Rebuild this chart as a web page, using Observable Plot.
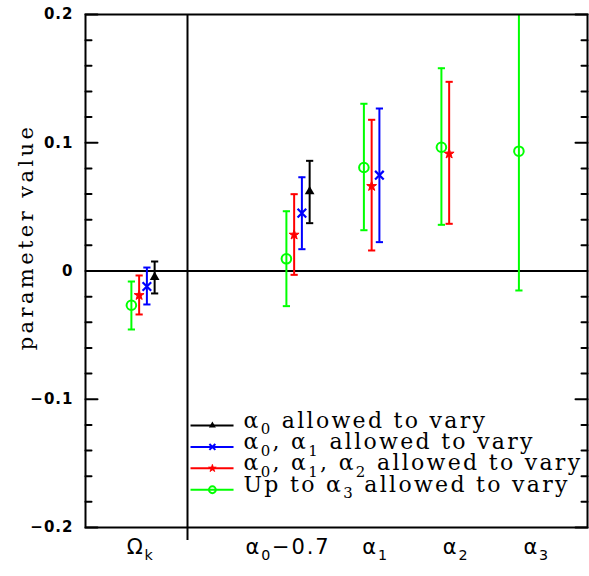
<!DOCTYPE html>
<html><head><meta charset="utf-8">
<script src="https://cdn.jsdelivr.net/npm/d3@7"></script>
<script src="https://cdn.jsdelivr.net/npm/@observablehq/plot@0.6"></script>
<style>
body{margin:0;background:#fff;}
.lgtext text{letter-spacing:2.3px;}
.ytitle text{letter-spacing:3.4px;}
.xlab text{letter-spacing:1.8px;}
.yaxis text{letter-spacing:1px;}
</style></head><body><div id="chart"></div>
<script>
// ---- data ----
const params = ["Ω_k", "α_0−0.7", "α_1", "α_2", "α_3"];
const paramSlot = [0, 2, 3, 4, 5];
const seriesNames = ["α_0 allowed to vary", "α_0, α_1 allowed to vary", "α_0, α_1, α_2 allowed to vary", "Up to α_3 allowed to vary"];
const seriesColors = ["#000000", "#0000ff", "#ff0000", "#00ff00"];
const seriesSymbols = ["triangle", "times", "star", "circle"];
// values per parameter (Ω_k, α0−0.7, α1, α2, α3)
const blackValue = [-0.0048, 0.0620];
const blackLow   = [-0.0175, 0.0373];
const blackHigh  = [ 0.0074, 0.0859];
const blueValue  = [-0.0121, 0.0451, 0.0747];
const blueLow    = [-0.0261, 0.0170, 0.0225];
const blueHigh   = [ 0.0027, 0.0731, 0.1267];
const redValue   = [-0.0189, 0.0282, 0.0661, 0.0914];
const redLow     = [-0.0339, -0.0030, 0.0160, 0.0368];
const redHigh    = [-0.0035, 0.0599, 0.1179, 0.1475];
const greenValue = [-0.0267, 0.0095, 0.0807, 0.0965, 0.0934];
const greenLow   = [-0.0456, -0.0274, 0.0318, 0.0360, -0.0152];
const greenHigh  = [-0.0082, 0.0466, 0.1304, 0.1581, 0.2020];
const yTickValues = [-0.2, -0.1, 0, 0.1, 0.2];
const yMinorTicks = [-0.18,-0.16,-0.14,-0.12,-0.08,-0.06,-0.04,-0.02,0.02,0.04,0.06,0.08,0.12,0.14,0.16,0.18];

// ---- layout (style) ----
const seriesOffset = [0.15, 0.05, -0.05, -0.15];
const labelShift = [-0.03, -0.13, 0, 0.04, 0.08];
const dividerSlot = 0.574;
const legend = {x1: 0.613, x2: 1.168, xm: 0.895, xt: 1.297, y0: -0.1205, step: 0.01669};

const seriesData = [
  [blackValue, blackLow, blackHigh],
  [blueValue, blueLow, blueHigh],
  [redValue, redLow, redHigh],
  [greenValue, greenLow, greenHigh]
];
const rows = [];
seriesData.forEach(([v, lo, hi], s) => {
  v.forEach((val, i) => rows.push({s, x: paramSlot[i] + seriesOffset[s], v: val, lo: lo[i], hi: hi[i], color: seriesColors[s]}));
});

const capSymbol = {draw(ctx, size) { const r = Math.sqrt(size / Math.PI); ctx.moveTo(-r, 0); ctx.lineTo(r, 0); }};
const tickShape = {draw(ctx, l) { ctx.moveTo(0, 0); ctx.lineTo(0, -l); }};
const markerStyle = [
  {fill: "#000000", stroke: "none", r: 3.6},
  {fill: "none", stroke: "#0000ff", strokeWidth: 2.2, r: 4},
  {fill: "#ff0000", stroke: "#ff0000", strokeWidth: 1, r: 3.1},
  {fill: "none", stroke: "#00ff00", strokeWidth: 2, r: 4.8}
];
const legendMarker = [
  {fill: "#000000", stroke: "none", r: 2.6},
  {fill: "none", stroke: "#0000ff", strokeWidth: 2, r: 2.8},
  {fill: "#ff0000", stroke: "#ff0000", strokeWidth: 0.8, r: 2.4},
  {fill: "none", stroke: "#00ff00", strokeWidth: 2, r: 3.4}
];
const idx = seriesNames.map((_, i) => i);
const ly = i => legend.y0 - i * legend.step;

const marks = [
  Plot.ruleY([0], {strokeWidth: 2}),
  Plot.ruleX([dividerSlot], {strokeWidth: 2, insetBottom: -13}),
  Plot.vector(yTickValues, {y: d => d, frameAnchor: "left", rotate: 90, length: 12, anchor: "start", shape: tickShape, strokeWidth: 2}),
  Plot.vector(yMinorTicks, {y: d => d, frameAnchor: "left", rotate: 90, length: 6, anchor: "start", shape: tickShape, strokeWidth: 2}),
  Plot.vector(yTickValues, {y: d => d, frameAnchor: "right", rotate: -90, length: 12, anchor: "start", shape: tickShape, strokeWidth: 2}),
  Plot.vector(yMinorTicks, {y: d => d, frameAnchor: "right", rotate: -90, length: 6, anchor: "start", shape: tickShape, strokeWidth: 2}),
  Plot.axisY(yTickValues, {tickSize: 0, tickPadding: 12, tickFormat: d => d === 0 ? "0" : d.toFixed(1).replace("-", "−"), fontSize: 15, fontWeight: "bold", fontFamily: "DejaVu Sans", className: "yaxis", label: null}),
  Plot.ruleX(rows, {x: "x", y1: "lo", y2: "hi", stroke: "color", strokeWidth: 2, clip: true}),
  Plot.dot(rows, {x: "x", y: "lo", symbol: capSymbol, r: 3.6, stroke: "color", strokeWidth: 2, clip: true}),
  Plot.dot(rows, {x: "x", y: "hi", symbol: capSymbol, r: 3.6, stroke: "color", strokeWidth: 2, clip: true}),
  ...markerStyle.map((st, s) => Plot.dot(rows.filter(d => d.s === s), {x: "x", y: "v", symbol: seriesSymbols[s], ...st})),
  // legend
  Plot.link(idx, {x1: legend.x1, x2: legend.x2, y1: ly, y2: ly, stroke: i => seriesColors[i], strokeWidth: 2}),
  ...legendMarker.map((st, s) => Plot.dot([s], {x: legend.xm, y: ly, symbol: seriesSymbols[s], ...st})),
  Plot.text(idx, {x: legend.xt, y: ly, text: i => seriesNames[i], textAnchor: "start", lineAnchor: "bottom", dy: 2, fontSize: 22, fontFamily: "DejaVu Serif", className: "lgtext rich", fill: "#000"}),
  // x labels
  Plot.text(params, {x: (d, i) => paramSlot[i] + labelShift[i], text: d => d, frameAnchor: "bottom", lineAnchor: "bottom", dy: 26, fontSize: 21, fontFamily: "DejaVu Sans", className: "xlab rich", fill: "#000"}),
  // y title
  Plot.text(["parameter value"], {frameAnchor: "left", textAnchor: "middle", rotate: -90, dx: -59, dy: -34, fontSize: 21, fontFamily: "DejaVu Serif", className: "ytitle", fill: "#000"}),
  Plot.frame({strokeWidth: 2})
];

const chart = Plot.plot({
  width: 589, height: 576,
  marginLeft: 85, marginRight: 2, marginTop: 14, marginBottom: 49,
  x: {domain: [-0.742, 5.735], axis: null},
  y: {domain: [-0.2, 0.2], axis: null},
  color: {type: "identity"},
  style: {fontFamily: "DejaVu Sans", background: "#fff"},
  marks
});
document.getElementById("chart").appendChild(chart);

// subscripts: "_x" -> subscript tspan
chart.querySelectorAll("g.rich text").forEach(t => {
  const s = t.textContent;
  const fs = parseFloat(getComputedStyle(t).fontSize) || 20;
  const shift = 0.3 * fs;
  const parts = s.split(/(_.)/).filter(p => p !== "");
  while (t.firstChild) t.removeChild(t.firstChild);
  let pendingUp = false;
  parts.forEach(p => {
    const ts = document.createElementNS("http://www.w3.org/2000/svg", "tspan");
    if (p.startsWith("_")) {
      ts.textContent = p.slice(1);
      ts.setAttribute("font-size", (0.68 * fs) + "px");
      ts.setAttribute("dy", shift);
      pendingUp = true;
    } else {
      ts.textContent = p;
      if (pendingUp) { ts.setAttribute("dy", -shift); pendingUp = false; }
    }
    t.appendChild(ts);
  });
});
</script></body></html>
